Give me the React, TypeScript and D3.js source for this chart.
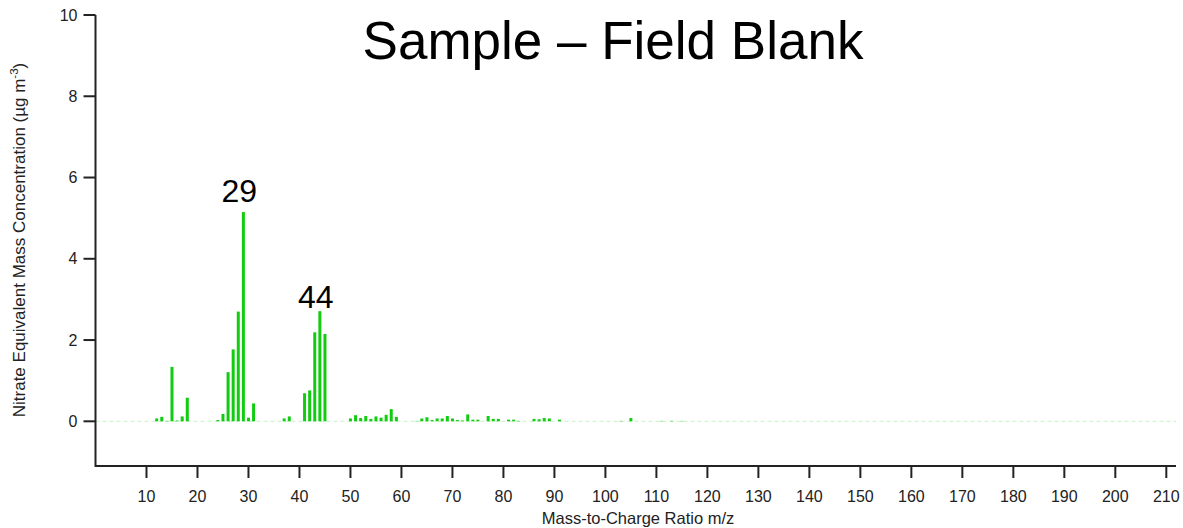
import React from "react";
import * as d3 from "d3";

const mz = [12, 13, 14, 15, 16, 17, 18, 24, 25, 26, 27, 28, 29, 30, 31, 37, 38, 41, 42, 43, 44, 45, 50, 51, 52, 53, 54, 55, 56, 57, 58, 59, 63, 64, 65, 66, 67, 68, 69, 70, 71, 72, 73, 74, 75, 77, 78, 79, 81, 82, 83, 86, 87, 88, 89, 91, 103, 105, 111, 113, 115];
const concentration = [0.07, 0.11, 0.01, 1.34, 0.02, 0.12, 0.58, 0.03, 0.18, 1.21, 1.77, 2.7, 5.15, 0.09, 0.44, 0.07, 0.12, 0.69, 0.76, 2.19, 2.71, 2.15, 0.07, 0.15, 0.08, 0.13, 0.06, 0.12, 0.09, 0.16, 0.3, 0.11, 0.01, 0.07, 0.1, 0.03, 0.07, 0.07, 0.13, 0.07, 0.03, 0.02, 0.17, 0.04, 0.04, 0.13, 0.06, 0.06, 0.04, 0.04, 0.01, 0.06, 0.05, 0.08, 0.07, 0.04, 0.01, 0.08, 0.01, 0.01, 0.01];
const xTicks = [10, 20, 30, 40, 50, 60, 70, 80, 90, 100, 110, 120, 130, 140, 150, 160, 170, 180, 190, 200, 210];
const yTicks = [0, 2, 4, 6, 8, 10];
const peakLabels = [29, 44];

const W = 1183;
const H = 528;
const left = 95.5;
const right = 1176;
const top = 15;
const bottom = 466;
const labelGap: Record<number, number> = { 29: 10, 44: 3 };

export default function App() {
  const x = d3.scaleLinear().domain([0, 211.9]).range([left, right]);
  const y = d3.scaleLinear().domain([-1.1, 10]).range([bottom, top]);
  const barColor = "#11cc11";
  const font = "Liberation Sans, Arial, sans-serif";
  const axisColor = "#222";
  return (
    <svg width={W} height={H} style={{ position: "absolute", left: 0, top: 0 }} fontFamily={font}>
      <rect x={0} y={0} width={W} height={H} fill="#fff" />
      {/* zero baseline */}
      <line x1={left} x2={right} y1={y(0)} y2={y(0)} stroke="#c8f0c8" strokeWidth={1} strokeDasharray="4,3" />
      {/* bars */}
      {mz.map((m, i) => {
        const v = concentration[i];
        return (
          <rect key={m} x={x(m) - 1.5} width={3} y={y(Math.max(v, 0))} height={Math.abs(y(v) - y(0))} fill={barColor} />
        );
      })}
      {/* peak labels */}
      {peakLabels.map((p) => {
        const v = concentration[mz.indexOf(p)];
        return (
          <text key={p} x={x(p) - 4} y={y(v) - labelGap[p]} textAnchor="middle" fontSize={32} fill="#000">
            {p}
          </text>
        );
      })}
      {/* axes */}
      <path d={`M${left},${top}V${bottom}H${right}`} fill="none" stroke={axisColor} strokeWidth={2} />
      {yTicks.map((t) => (
        <g key={t}>
          <line x1={left - 12} x2={left} y1={y(t)} y2={y(t)} stroke={axisColor} strokeWidth={2} />
          <text x={left - 18} y={y(t)} dy="0.35em" textAnchor="end" fontSize={16} fill="#222">
            {t}
          </text>
        </g>
      ))}
      {xTicks.map((t) => (
        <g key={t}>
          <line x1={x(t)} x2={x(t)} y1={bottom} y2={bottom + 12} stroke={axisColor} strokeWidth={2} />
          <text x={x(t)} y={bottom + 36} textAnchor="middle" fontSize={16} fill="#222">
            {t}
          </text>
        </g>
      ))}
      <text x={638} y={H - 4} textAnchor="middle" fontSize={16.5} fill="#222">
        Mass-to-Charge Ratio m/z
      </text>
      <text transform={`translate(25, 240) rotate(-90)`} textAnchor="middle" fontSize={17} fill="#222">
        Nitrate Equivalent Mass Concentration (µg m
        <tspan dy={-7} fontSize={11.5}>-3</tspan>
        <tspan dy={7}>)</tspan>
      </text>
      <text x={613} y={59} textAnchor="middle" fontSize={53} fill="#000">
        Sample – Field Blank
      </text>
    </svg>
  );
}
